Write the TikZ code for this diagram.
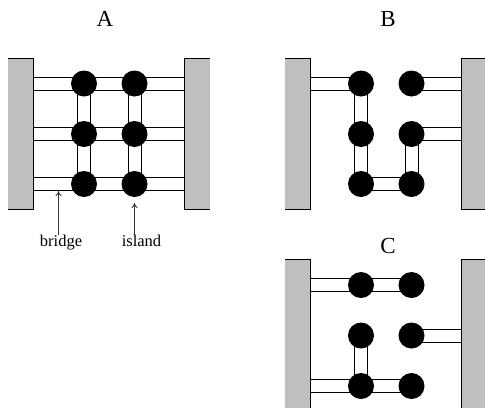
\documentclass[tikz,border=0pt]{standalone}
\usepackage{fontspec}
\setmainfont{Liberation Serif}
\pgfdeclarelayer{bg}
\pgfsetlayers{bg,main}
\definecolor{wallgray}{gray}{0.75}
\usetikzlibrary{arrows.meta}
\tikzset{
  island/.style={circle,fill=black,draw=none,minimum size=26pt,inner sep=0pt},
  wall/.style={rectangle,fill=wallgray,draw=none,inner sep=0pt,anchor=north west},
  wallline/.style={black,line width=0.9pt},
  bridge/.style={double=white,draw=black,line width=1pt,double distance=12pt},
  title/.style={font=\fontsize{23}{23}\selectfont,inner sep=0pt},
  lbl/.style={font=\fontsize{16.5}{16.5}\selectfont,inner sep=0pt,anchor=base},
  pointer/.style={draw=black!80,line width=0.8pt,-{To[length=5pt,width=6pt]}}
}
\begin{document}
\begin{tikzpicture}[x=1pt,y=-1pt]
\useasboundingbox (0,0) rectangle (485,408);
% titles
\node[title] (tA) at (105,19) {A};
\node[title] (tB) at (388,19) {B};
\node[title] (tC) at (388,246) {C};
% walls
\node[wall,minimum width=25.5pt,minimum height=151pt] (wA1) at (8,58) {};
\node[wall,minimum width=25.5pt,minimum height=151pt] (wA2) at (184.5,58) {};
\node[wall,minimum width=25.5pt,minimum height=151pt] (wB1) at (285,58) {};
\node[wall,minimum width=23.5pt,minimum height=151pt] (wB2) at (461.5,58) {};
\node[wall,minimum width=25.5pt,minimum height=148.5pt] (wC1) at (285,259.5) {};
\node[wall,minimum width=23.5pt,minimum height=148.5pt] (wC2) at (461.5,259.5) {};
\draw[wallline] (wA1.north west)--(wA1.north east)--(wA1.south east)--(wA1.south west);
\draw[wallline] (wA2.north east)--(wA2.north west)--(wA2.south west)--(wA2.south east);
\draw[wallline] (wB1.north west)--(wB1.north east)--(wB1.south east)--(wB1.south west);
\draw[wallline] (wB2.north east)--(wB2.north west)--(wB2.south west)--(wB2.south east);
\draw[wallline] (wC1.north west)--(wC1.north east)--(wC1.south east);
\draw[wallline] (wC2.north east)--(wC2.north west)--(wC2.south west);
% islands A
\node[island] (a11) at (84,83.5) {};
\node[island] (a12) at (134.5,83.5) {};
\node[island] (a21) at (84,134) {};
\node[island] (a22) at (134.5,134) {};
\node[island] (a31) at (84,184) {};
\node[island] (a32) at (134.5,184) {};
% islands B
\node[island] (b11) at (361,83.5) {};
\node[island] (b12) at (411.5,83.5) {};
\node[island] (b21) at (361,134) {};
\node[island] (b22) at (411.5,134) {};
\node[island] (b31) at (361,184) {};
\node[island] (b32) at (411.5,184) {};
% islands C
\node[island] (c11) at (361,285) {};
\node[island] (c12) at (411.5,285) {};
\node[island] (c21) at (361,335.5) {};
\node[island] (c22) at (411.5,335.5) {};
\node[island] (c31) at (361,386) {};
\node[island] (c32) at (411.5,386) {};
% labels
\node[lbl] (lbridge) at (61,246.5) {bridge};
\node[lbl] (lisland) at (141.5,246.5) {island};
\coordinate (pb) at (58.5,191);
\coordinate (pi) at (134.5,203);
\draw[pointer] (lbridge.north -| pb) -- (pb);
\draw[pointer] (lisland.north -| pi) -- (pi);
% bridges
\begin{pgfonlayer}{bg}
\draw[bridge] (wA1.east |- a11) -- (wA2.west |- a11);
\draw[bridge] (wA1.east |- a21) -- (wA2.west |- a21);
\draw[bridge] (wA1.east |- a31) -- (wA2.west |- a31);
\draw[bridge] (a11.center) -- (a31.center);
\draw[bridge] (a12.center) -- (a32.center);
\draw[bridge] (wB1.east |- b11) -- (b11.center);
\draw[bridge] (b12.center) -- (wB2.west |- b12);
\draw[bridge] (b22.center) -- (wB2.west |- b22);
\draw[bridge] (b11.center) -- (b31.center);
\draw[bridge] (b22.center) -- (b32.center);
\draw[bridge] (b31.center) -- (b32.center);
\draw[bridge] (wC1.east |- c11) -- (c11.center);
\draw[bridge] (c11.center) -- (c12.center);
\draw[bridge] (c22.center) -- (wC2.west |- c22);
\draw[bridge] (c21.center) -- (c31.center);
\draw[bridge] (wC1.east |- c31) -- (c31.center);
\draw[bridge] (c31.center) -- (c32.center);
\end{pgfonlayer}
\end{tikzpicture}
\end{document}
